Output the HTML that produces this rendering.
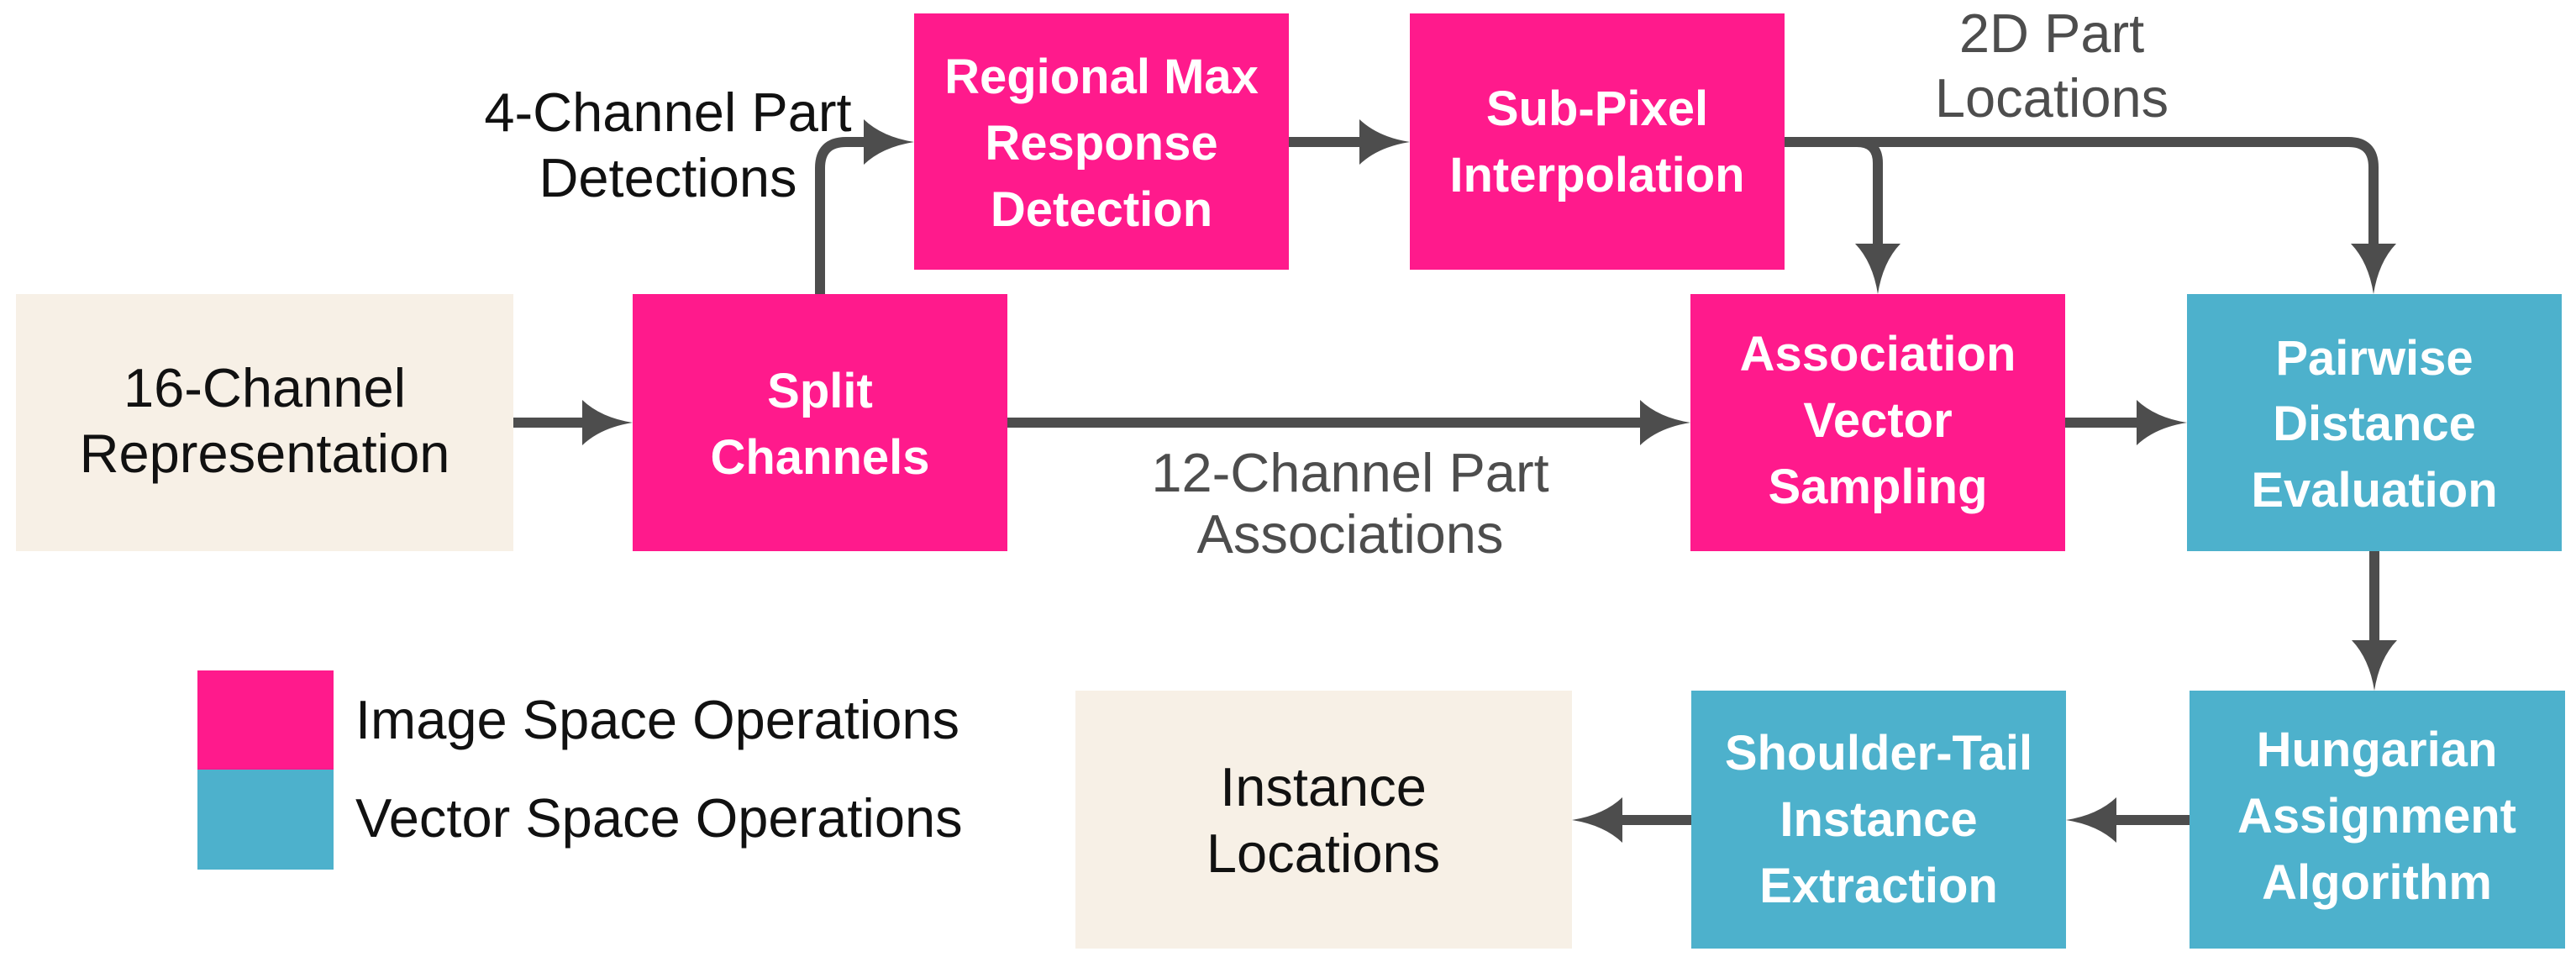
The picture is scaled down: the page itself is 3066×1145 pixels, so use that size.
<!DOCTYPE html>
<html><head><meta charset="utf-8"><style>
html,body{margin:0;padding:0;background:#fff;}
svg{display:block;}
text{font-family:"Liberation Sans",Arial,sans-serif;}
.w{fill:#fff;font-weight:bold;font-size:58px;text-anchor:middle;}
.b{fill:#111;font-size:65px;text-anchor:middle;}
.g{fill:#4d4d4d;font-size:65px;text-anchor:middle;}
.l{fill:#111;font-size:65px;}
.ln{stroke:#4d4d4d;stroke-width:12;fill:none;}
</style></head><body>
<svg width="3066" height="1145" viewBox="0 0 3066 1145" xmlns="http://www.w3.org/2000/svg">
<defs>
<path id="ah" d="M0,0 Q-38,-6 -60,-27 L-60,27 Q-38,6 0,0 Z" fill="#4d4d4d"/>
</defs>
<rect x="19" y="350" width="592" height="306" fill="#f7f0e6"/>
<rect x="753" y="350" width="446" height="306" fill="#ff1a8c"/>
<rect x="1088" y="16" width="446" height="305" fill="#ff1a8c"/>
<rect x="1678" y="16" width="446" height="305" fill="#ff1a8c"/>
<rect x="2012" y="350" width="446" height="306" fill="#ff1a8c"/>
<rect x="2603" y="350" width="446" height="306" fill="#4db1cc"/>
<rect x="2606" y="822" width="447" height="307" fill="#4db1cc"/>
<rect x="2013" y="822" width="446" height="307" fill="#4db1cc"/>
<rect x="1280" y="822" width="591" height="307" fill="#f7f0e6"/>
<rect x="235" y="798" width="162" height="118" fill="#ff1a8c"/>
<rect x="235" y="916" width="162" height="119" fill="#4db1cc"/>

<path class="ln" d="M611,503 H700"/><use href="#ah" transform="translate(753,503)"/>
<path class="ln" d="M976,350 V200 Q976,169 1007,169 H1035"/><use href="#ah" transform="translate(1088,169)"/>
<path class="ln" d="M1534,169 H1625"/><use href="#ah" transform="translate(1678,169)"/>
<path class="ln" d="M2124,169 H2795 Q2825,169 2825,199 V300"/><use href="#ah" transform="translate(2825,350) rotate(90)"/>
<path class="ln" d="M2210,169 Q2235,169 2235,194 V300"/><use href="#ah" transform="translate(2235,350) rotate(90)"/>
<path class="ln" d="M1199,503 H1960"/><use href="#ah" transform="translate(2012,503)"/>
<path class="ln" d="M2458,503 H2550"/><use href="#ah" transform="translate(2603,503)"/>
<path class="ln" d="M2826,656 V770"/><use href="#ah" transform="translate(2826,822) rotate(90)"/>
<path class="ln" d="M2606,976 H2515"/><use href="#ah" transform="translate(2459,976) rotate(180)"/>
<path class="ln" d="M2013,976 H1925"/><use href="#ah" transform="translate(1871,976) rotate(180)"/>

<text class="b" x="315" y="484">16-Channel</text>
<text class="b" x="315" y="562">Representation</text>
<text class="w" x="976" y="485">Split</text>
<text class="w" x="976" y="564">Channels</text>
<text class="w" x="1311" y="111">Regional Max</text>
<text class="w" x="1311" y="190">Response</text>
<text class="w" x="1311" y="269">Detection</text>
<text class="w" x="1901" y="149">Sub-Pixel</text>
<text class="w" x="1901" y="228">Interpolation</text>
<text class="w" x="2235" y="441">Association</text>
<text class="w" x="2235" y="520">Vector</text>
<text class="w" x="2235" y="599">Sampling</text>
<text class="w" x="2826" y="446">Pairwise</text>
<text class="w" x="2826" y="524">Distance</text>
<text class="w" x="2826" y="603">Evaluation</text>
<text class="w" x="2829" y="912">Hungarian</text>
<text class="w" x="2829" y="991">Assignment</text>
<text class="w" x="2829" y="1070">Algorithm</text>
<text class="w" x="2236" y="916">Shoulder-Tail</text>
<text class="w" x="2236" y="995">Instance</text>
<text class="w" x="2236" y="1074">Extraction</text>
<text class="b" x="1575" y="959">Instance</text>
<text class="b" x="1575" y="1038">Locations</text>
<text class="b" x="795" y="156">4-Channel Part</text>
<text class="b" x="795" y="234">Detections</text>
<text class="g" x="1607" y="585">12-Channel Part</text>
<text class="g" x="1607" y="658">Associations</text>
<text class="g" x="2442" y="62">2D Part</text>
<text class="g" x="2442" y="139">Locations</text>
<text class="l" x="423" y="879">Image Space Operations</text>
<text class="l" x="423" y="996">Vector Space Operations</text>
</svg>
</body></html>
